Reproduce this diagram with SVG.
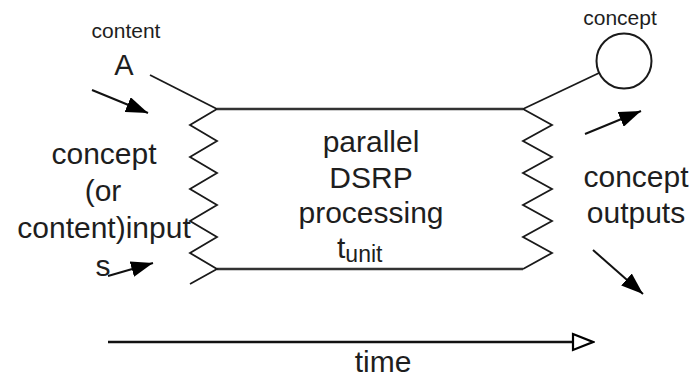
<svg xmlns="http://www.w3.org/2000/svg" width="696" height="379" viewBox="0 0 696 379">
<style>
text{font-family:"Liberation Sans",Arial,sans-serif;fill:#1e1e1e;text-anchor:middle}
.big{font-size:30px}
.small{font-size:21px}
.ln{fill:none;stroke:#1a1a1a;stroke-width:1.8;stroke-linejoin:miter}
.box{fill:none;stroke:#333;stroke-width:2.6}
.arr{fill:none;stroke:#111;stroke-width:2}
</style>
<defs>
<marker id="ah" viewBox="0 0 22 16" markerWidth="22" markerHeight="16" refX="22" refY="8" orient="auto" markerUnits="userSpaceOnUse">
<path d="M0,0 L22,8 L0,16 Z" fill="#000"/>
</marker>
<marker id="oh" viewBox="0 0 24 20" markerWidth="24" markerHeight="20" refX="2" refY="10" orient="auto" markerUnits="userSpaceOnUse">
<path d="M2,2 L22,10 L2,18 Z" fill="#fff" stroke="#000" stroke-width="2.2"/>
</marker>
</defs>
<g id="process">
<line class="box" x1="217" y1="109" x2="523" y2="109"/>
<line class="box" x1="217" y1="269" x2="523" y2="269"/>
<polyline class="ln" points="217,109 190,125 217,141 190,157 217,173 190,189 217,205 190,221 217,237 190,253 217,269 190,284"/>
<polyline class="ln" points="523,109 552,125 523,141 552,157 523,173 552,189 523,205 552,221 523,237 552,253 523,269"/>
<text class="big" x="371" y="152">parallel</text>
<text class="big" x="371" y="188">DSRP</text>
<text class="big" x="371" y="223">processing</text>
<text class="big" x="337" y="258" style="text-anchor:start">t<tspan font-size="23" dy="4">unit</tspan></text>
</g>
<g id="content-A">
<text class="small" x="126" y="38">content</text>
<text style="font-size:29px" x="124" y="75">A</text>
</g>
<g id="inputs">
<text class="big" x="104" y="164">concept</text>
<text class="big" x="103" y="201">(or</text>
<text class="big" x="104" y="238">content)input</text>
<text class="big" x="103" y="276">s</text>
</g>
<g id="concept-node">
<text class="small" x="620" y="25">concept</text>
<circle cx="624" cy="61" r="27.5" fill="#fff" stroke="#1a1a1a" stroke-width="2"/>
</g>
<g id="outputs">
<text class="big" x="636" y="187">concept</text>
<text class="big" x="636" y="223">outputs</text>
</g>
<g id="time-label">
<text class="big" x="383" y="372">time</text>
</g>
<g id="connectors">
<line class="ln" x1="150" y1="75" x2="217" y2="109"/>
<line class="ln" x1="523" y1="109" x2="599" y2="73"/>
<line class="arr" x1="92" y1="90" x2="148" y2="113" marker-end="url(#ah)"/>
<line class="arr" x1="108" y1="276" x2="153" y2="263" marker-end="url(#ah)"/>
<line class="arr" x1="585" y1="134" x2="641" y2="111" marker-end="url(#ah)"/>
<line class="arr" x1="593" y1="250" x2="643" y2="294" marker-end="url(#ah)"/>
<line x1="108" y1="342" x2="573" y2="342" stroke="#111" stroke-width="2.6" marker-end="url(#oh)"/>
</g>
</svg>
